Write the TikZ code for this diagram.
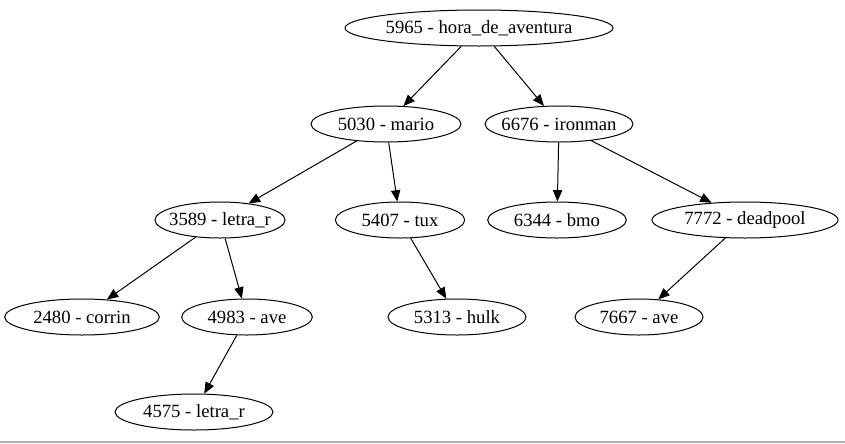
\documentclass[tikz,border=0pt]{standalone}
\usepackage{fontspec}
\setmainfont{Liberation Serif}
\usetikzlibrary{shapes.geometric, arrows.meta}

\tikzset{
  nodo/.style={ellipse, draw, line width=0.75pt, inner xsep=-10pt, inner ysep=0pt,
    minimum height=27pt, font=\fontsize{14}{16}\selectfont},
  arista/.style={-{Triangle[length=8.5pt, width=7pt]}, line width=0.75pt}
}

\begin{document}
\begin{tikzpicture}[x=0.75pt, y=-0.75pt]

        \useasboundingbox (0, 0) rectangle (845, 443);
        \draw[gray!60, line width=1.5pt] (0, 441.5) -- (845, 441.5);

        \node[nodo, minimum width=201pt] (n5965) at (479, 28) {5965 - hora\_de\_aventura};
        \node[nodo, minimum width=112.5pt] (n5030) at (386, 124) {5030 - mario};
        \node[nodo, minimum width=111pt] (n6676) at (559, 124) {6676 - ironman};
        \node[nodo, minimum width=97.5pt] (n3589) at (220, 220) {3589 - letra\_r};
        \node[nodo, minimum width=97pt] (n5407) at (400, 220) {5407 - tux};
        \node[nodo, minimum width=104pt] (n6344) at (557, 220) {6344 - bmo};
        \node[nodo, minimum width=139.5pt] (n7772) at (745, 220) {7772 - deadpool};
        \node[nodo, minimum width=116pt] (n2480) at (82, 317) {2480 - corrin};
        \node[nodo, minimum width=98pt] (n4983) at (247, 317) {4983 - ave};
        \node[nodo, minimum width=103.5pt] (n5313) at (457, 317) {5313 - hulk};
        \node[nodo, minimum width=96pt] (n7667) at (639, 317) {7667 - ave};
        \node[nodo, minimum width=118.5pt] (n4575) at (194, 412) {4575 - letra\_r};

        \draw[arista] (n5965) -- (n5030);
        \draw[arista] (n5965) -- (n6676);
        \draw[arista] (n5030) -- (n3589);
        \draw[arista] (n5030) -- (n5407);
        \draw[arista] (n6676) -- (n6344);
        \draw[arista] (n6676) -- (n7772);
        \draw[arista] (n3589) -- (n2480);
        \draw[arista] (n3589) -- (n4983);
        \draw[arista] (n5407) -- (n5313);
        \draw[arista] (n7772) -- (n7667);
        \draw[arista] (n4983) -- (n4575);

      \end{tikzpicture}
\end{document}
